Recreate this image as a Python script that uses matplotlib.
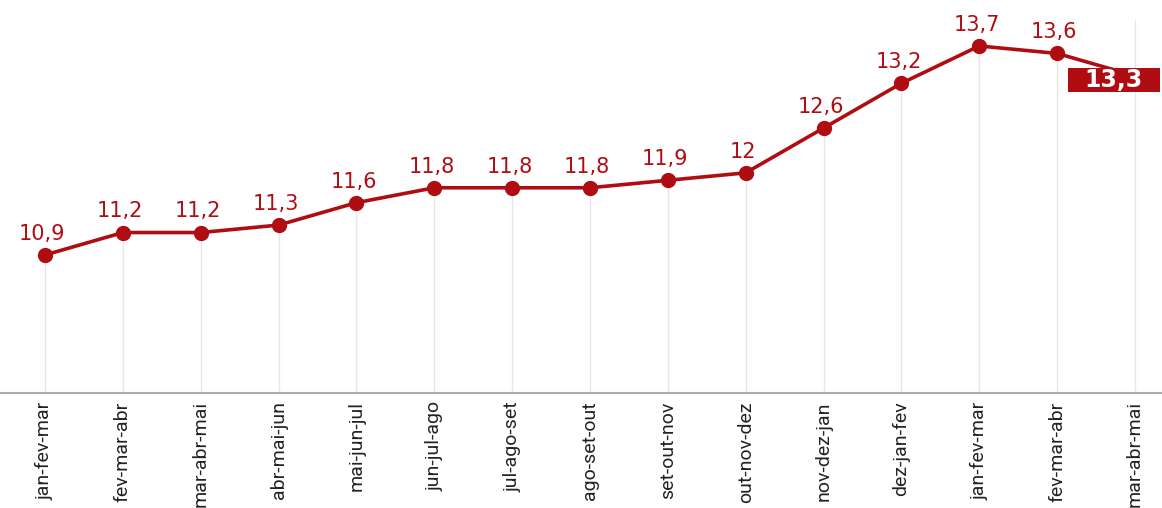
import matplotlib.pyplot as plt
from matplotlib.patches import Rectangle
from matplotlib.transforms import ScaledTranslation

periods = ['jan-fev-mar', 'fev-mar-abr', 'mar-abr-mai', 'abr-mai-jun', 'mai-jun-jul',
           'jun-jul-ago', 'jul-ago-set', 'ago-set-out', 'set-out-nov', 'out-nov-dez',
           'nov-dez-jan', 'dez-jan-fev', 'jan-fev-mar', 'fev-mar-abr', 'mar-abr-mai']
rate = [10.9, 11.2, 11.2, 11.3, 11.6, 11.8, 11.8, 11.8, 11.9, 12.0,
        12.6, 13.2, 13.7, 13.6, 13.3]

red = '#b00d13'

def fmt(v):
    s = f'{v:.1f}'.replace('.', ',')
    return s[:-2] if s.endswith(',0') else s

fig = plt.figure(figsize=(11.62, 5.08), dpi=100)
ax = fig.add_axes([0, 115 / 508, 1, 393 / 508])
ax.set_xlim(-0.578, 14.347)
ax.set_ylim(9.05, 14.316)

x = list(range(len(rate)))
# light guide lines from the axis up to each point (last one runs full height)
ax.vlines(x[:-1], 9.05, rate[:-1], color='#e6e6e6', lw=1, zorder=0)
ax.axvline(x[-1], ymax=0.95, color='#e6e6e6', lw=1, zorder=0)
ax.plot(x, rate, color=red, lw=2.6, marker='o', ms=10, zorder=3)

for xi, v in zip(x[:-1], rate[:-1]):
    ax.annotate(fmt(v), (xi, v), xytext=(-2, 8), textcoords='offset points',
                ha='center', va='bottom', color=red, fontsize=15)

# last value highlighted in a red box (sized in inches, anchored at the last point)
anchor = fig.dpi_scale_trans + ScaledTranslation(x[-1], rate[-1], ax.transData)
ax.add_patch(Rectangle((-0.67, -0.16), 0.92, 0.24, transform=anchor,
                       fc=red, ec='none', zorder=5, clip_on=False))
ax.text(-0.21, -0.04, fmt(rate[-1]), transform=anchor, ha='center', va='center',
        color='white', fontsize=17, fontweight='bold', zorder=6)

ax.set_xticks(x)
ax.set_xticklabels(periods, rotation=90, fontsize=14, color='#222222', family='Roboto')
ax.tick_params(axis='x', length=0, pad=6)
ax.set_yticks([])
for s in ['top', 'left', 'right']:
    ax.spines[s].set_visible(False)
ax.spines['bottom'].set_color('#aaaaaa')
ax.spines['bottom'].set_linewidth(1.5)

fig.savefig('out.png', dpi=100)
